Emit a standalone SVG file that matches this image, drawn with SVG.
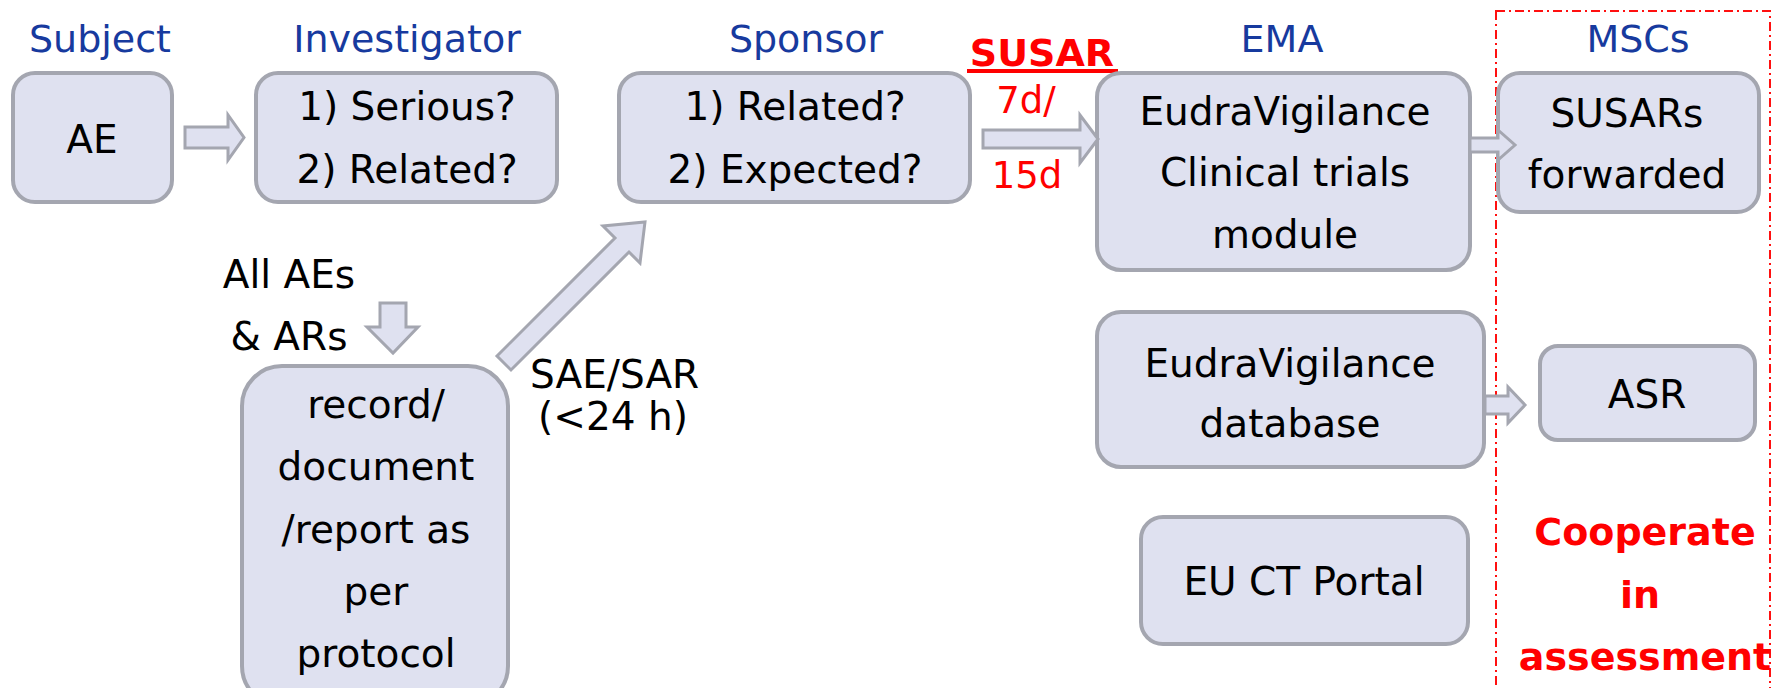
<svg xmlns="http://www.w3.org/2000/svg" width="1779" height="688" viewBox="0 0 1779 688">
<style>
.box{fill:#dfe1f0;stroke:#a4a6b0;stroke-width:4}
.arr{fill:#dfe1f0;stroke:#a4a6b0;stroke-width:3;stroke-linejoin:miter}
.hd{font-family:"DejaVu Sans",Verdana,sans-serif;font-size:38px;fill:#173a9e;text-anchor:middle}
.t{font-family:"DejaVu Sans",Verdana,sans-serif;font-size:39px;fill:#000;text-anchor:middle}
.r{font-family:"DejaVu Sans",Verdana,sans-serif;font-size:37px;fill:#ff0000;text-anchor:middle}
.rb{font-family:"DejaVu Sans",Verdana,sans-serif;font-size:38px;font-weight:bold;fill:#ff0000;text-anchor:middle}
</style>
<rect width="1779" height="688" fill="#fff"/>
<g id="headers">
<text class="hd" x="100" y="52">Subject</text>
<text class="hd" x="407" y="52">Investigator</text>
<text class="hd" x="806" y="52">Sponsor</text>
<text class="hd" x="1282" y="52">EMA</text>
<text class="hd" x="1638" y="52">MSCs</text>
</g>
<g id="msc-region">
<rect x="1496" y="11" width="274" height="690" fill="none" stroke="#ff1010" stroke-width="2" stroke-dasharray="9 4 2 4"/>
</g>
<g id="node-ae">
<rect class="box" x="13" y="73" width="159" height="129" rx="22"/>
<text class="t" x="92" y="153">AE</text>
</g>
<g id="node-investigator">
<rect class="box" x="256" y="73" width="301" height="129" rx="22"/>
<text class="t" x="407" y="120">1) Serious?</text>
<text class="t" x="407" y="183">2) Related?</text>
</g>
<g id="node-sponsor">
<rect class="box" x="619" y="73" width="351" height="129" rx="22"/>
<text class="t" x="795" y="120">1) Related?</text>
<text class="t" x="795" y="183">2) Expected?</text>
</g>
<g id="label-susar">
<text class="rb" x="1042" y="66">SUSAR</text>
<rect x="967" y="69" width="151" height="4" fill="#ff0000"/>
<text class="r" x="1026" y="113">7d/</text>
<text class="r" x="1027" y="188">15d</text>
</g>
<g id="node-ev-ct">
<rect class="box" x="1097" y="73" width="373" height="197" rx="24"/>
<text class="t" x="1285" y="125">EudraVigilance</text>
<text class="t" x="1285" y="186">Clinical trials</text>
<text class="t" x="1285" y="248">module</text>
</g>
<g id="node-susars-forwarded">
<rect class="box" x="1498" y="73" width="261" height="139" rx="22"/>
<text class="t" x="1627" y="127">SUSARs</text>
<text class="t" x="1627" y="188">forwarded</text>
</g>
<g id="node-ev-db">
<rect class="box" x="1097" y="312" width="387" height="155" rx="24"/>
<text class="t" x="1290" y="377">EudraVigilance</text>
<text class="t" x="1290" y="437">database</text>
</g>
<g id="node-asr">
<rect class="box" x="1540" y="346" width="215" height="94" rx="18"/>
<text class="t" x="1647" y="408">ASR</text>
</g>
<g id="node-euct">
<rect class="box" x="1141" y="517" width="327" height="127" rx="22"/>
<text class="t" x="1304" y="595">EU CT Portal</text>
</g>
<g id="label-cooperate">
<text class="rb" x="1645" y="545">Cooperate</text>
<text class="rb" x="1640" y="608">in</text>
<text class="rb" x="1645" y="670">assessment</text>
</g>
<g id="label-all-aes">
<text class="t" x="289" y="288">All AEs</text>
<text class="t" x="289" y="350">&amp; ARs</text>
</g>
<g id="node-record">
<rect class="box" x="242" y="366" width="266" height="340" rx="40"/>
<text class="t" x="376" y="418">record/</text>
<text class="t" x="376" y="480">document</text>
<text class="t" x="376" y="543">/report as</text>
<text class="t" x="376" y="605">per</text>
<text class="t" x="376" y="667">protocol</text>
</g>
<g id="label-sae">
<text class="t" x="530" y="388" style="text-anchor:start">SAE/SAR</text>
<text class="t" x="538" y="430" style="text-anchor:start">(&lt;24 h)</text>
</g>
<g id="connectors">
<polygon class="arr" points="185,127 228,127 228,115 244,137.5 228,160 228,148 185,148"/>
<polygon class="arr" points="983,130 1080,130 1080,115 1098,139 1080,163 1080,148 983,148"/>
<polygon class="arr" points="1470,138 1498,138 1498,130 1515,145 1498,160 1498,152 1470,152"/>
<polygon class="arr" points="1485,396 1508,396 1508,387 1525,405 1508,423 1508,414 1485,414"/>
<polygon class="arr" points="380,303 406,303 406,327 418,327 393,353 367,327 380,327"/>
<polygon class="arr" points="497,356 615,238 603,226 645,222 640,263 629,252 511,370"/>
</g>
</svg>
